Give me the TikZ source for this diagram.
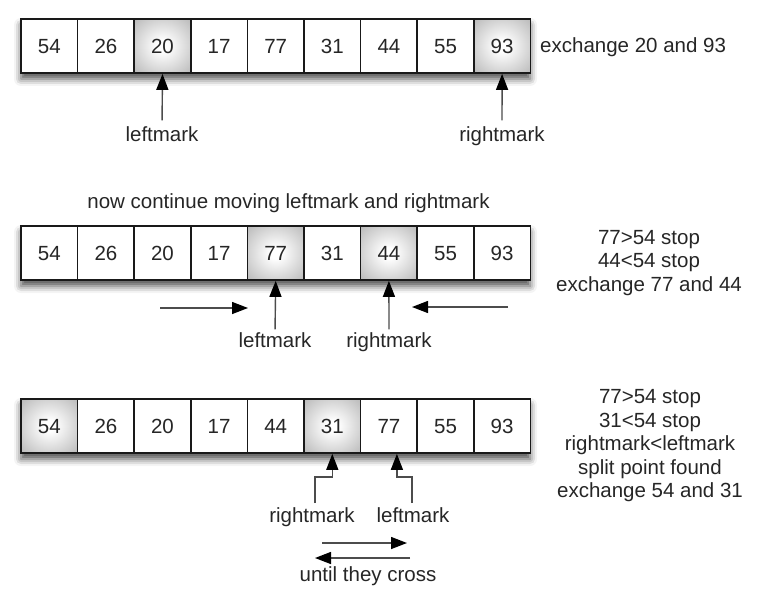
\documentclass[tikz,border=0pt]{standalone}
\usepackage{fontspec}
\setmainfont{Liberation Sans}
\usetikzlibrary{arrows.meta,shadows.blur}
\newcommand\dgtxt{\fontsize{20.5}{23.5}\selectfont}
\pgfdeclareradialshading{cellglow}{\pgfpoint{0bp}{0bp}}{color(0bp)=(white); color(5bp)=(white); color(35bp)=(black!27); color(50bp)=(black!38)}
\tikzset{
  cell/.style={draw=black!90, line width=1.7pt, minimum width=56.6pt, minimum height=54pt,
    inner sep=0pt, fill=white, font=\dgtxt, text=black!85, text height=15pt, text depth=0pt},
  hot/.style={shading=cellglow},
  cool/.style={},
  lbl/.style={font=\dgtxt, text=black!85, inner sep=0pt, text height=15pt, text depth=4pt},
  note/.style={font=\dgtxt, text=black!85, inner sep=0pt, align=center},
  arr/.style={draw=black!70, line width=1.4pt, -{Triangle[width=12pt,length=16pt,color=black]}},
  rowshadow/.style={fill=white, blur shadow={shadow xshift=0pt, shadow yshift=-6pt, shadow blur radius=7pt, shadow opacity=70}},
}
\begin{document}
\begin{tikzpicture}[x=1pt,y=-1pt]
\useasboundingbox (0,0) rectangle (759,596);
% row shadows
\path[rowshadow] (21,19) rectangle (530,73);
\path[rowshadow] (21,226) rectangle (530,280);
\path[rowshadow] (21,399) rectangle (530,453);
% row 1
\foreach \v/\s [count=\i] in {54/cool,26/cool,20/hot,17/cool,77/cool,31/cool,44/cool,55/cool,93/hot}
  \node[cell,\s] (a\i) at ({21+56.6*(\i-0.5)},46) {\v};
% row 2
\foreach \v/\s [count=\i] in {54/cool,26/cool,20/cool,17/cool,77/hot,31/cool,44/hot,55/cool,93/cool}
  \node[cell,\s] (b\i) at ({21+56.6*(\i-0.5)},253) {\v};
% row 3
\foreach \v/\s [count=\i] in {54/hot,26/cool,20/cool,17/cool,44/cool,31/hot,77/cool,55/cool,93/cool}
  \node[cell,\s] (c\i) at ({21+56.6*(\i-0.5)},426) {\v};

% row 1 labels and arrows
\node[note, anchor=west] (t1) at (540,47) {exchange 20 and 93};
\node[lbl] (lm1) at (162,136) {leftmark};
\node[lbl] (rm1) at (502,136) {rightmark};
\draw[arr, shorten <=6pt] (lm1.north) -- (a3.south);
\draw[arr, shorten <=6pt] (rm1.north) -- (a9.south);

% row 2
\node[lbl] (t2) at (288.5,202.5) {now continue moving leftmark and rightmark};
\node[note] (n2) at (649,263) {77>54 stop\\44<54 stop\\exchange 77 and 44};
\node[lbl] (lm2) at (275,342) {leftmark};
\node[lbl] (rm2) at (389,342) {rightmark};
\draw[arr, shorten <=3pt] (lm2.north) -- (b5.south);
\draw[arr, shorten <=3pt] (rm2.north) -- (b7.south);
\coordinate (l2a) at (160,308);
\coordinate (l2b) at (248,308);
\coordinate (r2a) at (508,307);
\coordinate (r2b) at (412,307);
\draw[arr] (l2a) -- (l2b);
\draw[arr] (r2a) -- (r2b);

% row 3
\node[note] (n3) at (650,446) {77>54 stop\\31<54 stop\\rightmark<leftmark\\split point found\\exchange 54 and 31};
\node[lbl] (rm3) at (312,517) {rightmark};
\node[lbl] (lm3) at (413,517) {leftmark};
\coordinate (rk) at (315,503);
\coordinate (lk) at (412,503);
\draw[arr] (rk) -- ++(0,-26) -| (c6.south);
\draw[arr] (lk) -- ++(0,-26) -| ([xshift=8pt]c7.south);
\coordinate (u1a) at (322,543);
\coordinate (u1b) at (407,543);
\coordinate (u2a) at (410,558);
\coordinate (u2b) at (315,558);
\draw[arr] (u1a) -- (u1b);
\draw[arr] (u2a) -- (u2b);
\node[lbl] (uc) at (368,576) {until they cross};
\end{tikzpicture}
\end{document}
